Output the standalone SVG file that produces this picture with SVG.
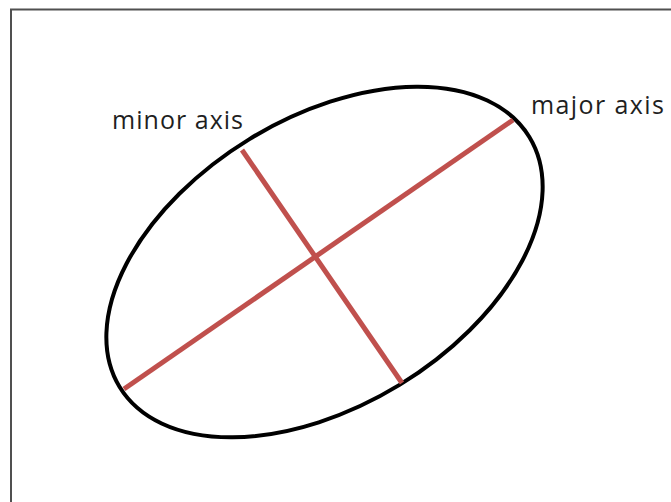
<svg xmlns="http://www.w3.org/2000/svg" width="671" height="502" viewBox="0 0 671 502">
<style>
.lbl{font-family:"Open Sans","Noto Sans",sans-serif;font-size:25px;fill:#1f1f1f}
.axis{stroke:#c0504d;stroke-width:5;stroke-linecap:butt}
</style>
<rect x="0" y="0" width="671" height="502" fill="#fff"/>
<rect x="11" y="9.5" width="700" height="520" fill="none" stroke="#505050" stroke-width="2"/>
<g id="ellipse">
<ellipse cx="324.5" cy="262" rx="240" ry="144" transform="rotate(-31.4 324.5 262)" fill="none" stroke="#000" stroke-width="4"/>
</g>
<g id="connectors">
<line class="axis" x1="124" y1="389" x2="513" y2="120"/>
<line class="axis" x1="242" y1="150" x2="402" y2="383"/>
</g>
<g id="label-minor"><text class="lbl" x="112" y="129" textLength="131" lengthAdjust="spacing">minor axis</text></g>
<g id="label-major"><text class="lbl" x="531" y="114" textLength="133" lengthAdjust="spacing">major axis</text></g>
</svg>
